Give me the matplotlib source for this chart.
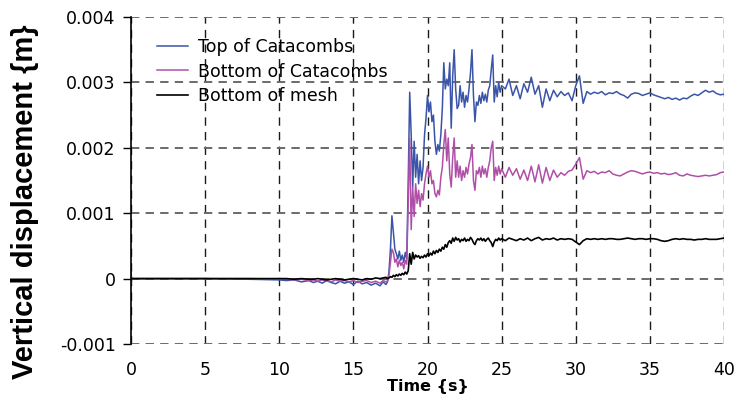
import matplotlib
matplotlib.use("Agg")
import matplotlib.pyplot as plt
import numpy as np

# ---------------- data (values in units of 1e-3 m) ----------------
t_quiet = [0, 0.05, 5, 8, 10, 10.5, 11, 11.5, 12, 12.3, 12.6, 12.9, 13.2, 13.5, 13.8,
           14.1, 14.4, 14.7, 15.0, 15.3, 15.6, 15.9, 16.2, 16.5, 16.8, 17.0, 17.2]
t_active = [17.3, 17.4, 17.5, 17.6, 17.7, 17.8, 17.9, 18.0, 18.1, 18.2, 18.3, 18.4, 18.5,
            18.6, 18.7, 18.8, 18.9, 19.0, 19.1, 19.2, 19.3, 19.4, 19.5, 19.6, 19.7, 19.8,
            19.9, 20.0, 20.1, 20.2, 20.3, 20.4, 20.5, 20.6, 20.7, 20.8, 20.9, 21.0, 21.1,
            21.2, 21.3, 21.4, 21.5, 21.6, 21.7, 21.8, 21.9, 22.0, 22.1, 22.2, 22.3, 22.4,
            22.5, 22.6, 22.7, 22.8, 22.9, 23.0, 23.1, 23.2, 23.3, 23.4, 23.5, 23.6, 23.7,
            23.8, 23.9, 24.0, 24.1, 24.2, 24.3, 24.4, 24.5, 24.6, 24.7, 24.8, 24.9, 25.0]
t_late = [25.25, 25.5, 25.75, 26.0, 26.25, 26.5, 26.75, 27.0, 27.25, 27.5, 27.75, 28.0,
          28.25, 28.5, 28.75, 29.0, 29.25, 29.5, 29.75, 30.0, 30.25, 30.5, 30.75, 31.0,
          31.25, 31.5, 31.75, 32.0, 32.25, 32.5, 32.75, 33.0, 33.25, 33.5, 33.75, 34.0,
          34.25, 34.5, 34.75, 35.0, 35.25, 35.5, 35.75, 36.0, 36.25, 36.5, 36.75, 37.0,
          37.25, 37.5, 37.75, 38.0, 38.25, 38.5, 38.75, 39.0, 39.25, 39.5, 39.75, 40.0]

top_quiet = [-0.08, 0, 0, -0.01, -0.02, -0.03, -0.02, -0.05, -0.03, -0.06, -0.04, -0.07, -0.03,
             -0.06, -0.08, -0.04, -0.07, -0.05, -0.09, -0.04, -0.08, -0.06, -0.10, -0.07,
             -0.11, -0.05, -0.09]
top_active = [-0.05, 0.10, 0.45, 0.96, 0.70, 0.45, 0.38, 0.30, 0.42, 0.28, 0.36, 0.25, 0.40,
              0.30, 1.50, 2.85, 2.20, 1.40, 2.10, 1.55, 1.90, 1.45, 1.80, 1.50, 1.70, 2.20,
              2.45, 2.80, 2.55, 2.70, 2.40, 2.50, 2.10, 1.90, 2.05, 1.95, 2.20, 2.60, 3.30,
              2.90, 3.05, 2.95, 3.30, 2.30, 3.10, 3.50, 2.90, 2.60, 2.65, 2.95, 2.70, 2.85,
              2.62, 2.80, 2.70, 2.90, 3.15, 3.50, 2.80, 2.40, 2.70, 2.65, 2.80, 2.68, 2.85,
              2.72, 2.82, 2.70, 2.88, 2.95, 3.20, 3.42, 2.70, 2.95, 2.78, 3.00, 2.85, 2.95]
top_late = [2.90, 3.05, 2.80, 2.95, 2.75, 2.98, 2.85, 3.08, 2.82, 2.95, 2.62, 2.90,
            2.72, 2.88, 2.78, 2.86, 2.80, 2.84, 2.72, 2.95, 3.10, 2.68, 2.86, 2.82,
            2.85, 2.83, 2.86, 2.81, 2.84, 2.83, 2.86, 2.82, 2.80, 2.76, 2.82, 2.84,
            2.83, 2.80, 2.82, 2.84, 2.81, 2.79, 2.77, 2.75, 2.77, 2.74, 2.76, 2.73,
            2.76, 2.75, 2.79, 2.82, 2.80, 2.84, 2.88, 2.85, 2.87, 2.83, 2.81, 2.82]

bot_quiet = [0.10, 0, 0, 0, -0.01, -0.01, -0.02, -0.01, -0.03, -0.02, -0.04, -0.02, -0.03,
             -0.05, -0.02, -0.04, -0.03, -0.05, -0.03, -0.06, -0.04, -0.03, -0.06, -0.04,
             -0.07, -0.03, -0.05]
bot_active = [-0.04, 0.05, 0.25, 0.45, 0.40, 0.25, 0.30, 0.18, 0.28, 0.20, 0.25, 0.15, 0.28,
              0.22, 1.20, 2.14, 0.75, 1.40, 0.95, 1.45, 1.15, 1.35, 1.10, 1.30, 1.20, 1.45,
              1.60, 1.72, 1.55, 1.65, 1.45, 1.50, 1.30, 1.25, 1.35, 1.28, 1.55, 1.70, 2.05,
              2.28, 1.80, 2.15, 1.60, 1.40, 1.85, 2.15, 1.55, 1.80, 1.55, 1.72, 1.50, 1.65,
              1.55, 1.70, 1.60, 1.75, 1.85, 2.05, 1.50, 1.35, 1.65, 1.60, 1.70, 1.55, 1.72,
              1.60, 1.68, 1.55, 1.70, 1.80, 2.00, 2.10, 1.50, 1.70, 1.58, 1.72, 1.60, 1.68]
bot_late = [1.55, 1.70, 1.58, 1.68, 1.52, 1.66, 1.50, 1.72, 1.48, 1.74, 1.46, 1.70,
            1.50, 1.66, 1.55, 1.62, 1.58, 1.64, 1.66, 1.75, 1.85, 1.52, 1.65, 1.62,
            1.64, 1.60, 1.63, 1.62, 1.65, 1.60, 1.58, 1.57, 1.60, 1.63, 1.65, 1.64,
            1.62, 1.60, 1.62, 1.63, 1.61, 1.62, 1.60, 1.61, 1.59, 1.60, 1.62, 1.58,
            1.57, 1.60, 1.58, 1.57, 1.56, 1.57, 1.58, 1.57, 1.58, 1.59, 1.62, 1.63]

mesh_quiet = [0, 0, 0, 0, 0, 0, -0.01, 0, -0.01, -0.01, 0, -0.01, -0.02, -0.01, 0, -0.01,
              -0.02, -0.01, 0, -0.01, -0.02, 0, -0.01, 0.01, 0, 0.01, 0.02]
mesh_active = [0.00, 0.01, 0.03, 0.02, 0.05, 0.03, 0.06, 0.04, 0.07, 0.05, 0.08, 0.06, 0.10,
               0.07, 0.12, 0.38, 0.22, 0.40, 0.30, 0.36, 0.33, 0.35, 0.31, 0.34, 0.32, 0.36,
               0.33, 0.38, 0.35, 0.39, 0.36, 0.42, 0.38, 0.43, 0.40, 0.45, 0.42, 0.48, 0.45,
               0.52, 0.48, 0.55, 0.58, 0.54, 0.62, 0.57, 0.63, 0.59, 0.61, 0.56, 0.60, 0.58,
               0.62, 0.57, 0.60, 0.58, 0.63, 0.60, 0.55, 0.52, 0.58, 0.61, 0.59, 0.62, 0.58,
               0.61, 0.57, 0.60, 0.62, 0.58, 0.55, 0.49, 0.56, 0.60, 0.58, 0.62, 0.59, 0.61]
mesh_late = [0.58, 0.62, 0.60, 0.58, 0.61, 0.59, 0.62, 0.58, 0.61, 0.63, 0.59, 0.61,
             0.60, 0.62, 0.59, 0.61, 0.60, 0.61, 0.60, 0.56, 0.52, 0.58, 0.61, 0.60,
             0.61, 0.60, 0.61, 0.60, 0.61, 0.61, 0.60, 0.60, 0.61, 0.62, 0.61, 0.60,
             0.61, 0.61, 0.60, 0.61, 0.61, 0.60, 0.58, 0.57, 0.58, 0.60, 0.61, 0.60,
             0.61, 0.60, 0.60, 0.59, 0.60, 0.60, 0.61, 0.60, 0.60, 0.60, 0.61, 0.62]

series_names = ["Top of Catacombs", "Bottom of Catacombs", "Bottom of mesh"]
series_colors = ["#3A55A8", "#B04FA8", "#000000"]

x_ticks = [0, 5, 10, 15, 20, 25, 30, 35, 40]
y_ticks = [-0.001, 0, 0.001, 0.002, 0.003, 0.004]
y_tick_labels = ["-0.001", "0", "0.001", "0.002", "0.003", "0.004"]

# ---------------- figure ----------------
t_all = np.array(t_quiet + t_active + t_late)
series_vals = [
    np.array(top_quiet + top_active + top_late) * 1e-3,
    np.array(bot_quiet + bot_active + bot_late) * 1e-3,
    np.array(mesh_quiet + mesh_active + mesh_late) * 1e-3,
]

fig = plt.figure(figsize=(7.39, 3.98), dpi=100)
ax = fig.add_axes([131 / 739, 1 - 344 / 398, (724 - 131) / 739, (344 - 17) / 398])

lws = [1.1, 1.1, 1.2]
for name, col, vals, lw in zip(series_names, series_colors, series_vals, lws):
    ax.plot(t_all, vals, color=col, lw=lw, label=name)

ax.set_xlim(0, 40)
ax.set_ylim(-0.001, 0.004)
ax.set_xticks(x_ticks)
ax.set_xticklabels([str(v) for v in x_ticks], family="DejaVu Sans", fontsize=12.5)
ax.set_yticks(y_ticks)
ax.set_yticklabels(y_tick_labels, family="DejaVu Sans", fontsize=12.5)

ax.set_axisbelow(True)
ax.xaxis.grid(True, color="#1a1a1a", lw=1.0, linestyle=(0, (6, 4.5)))
ax.yaxis.grid(True, color="#6a6a6a", lw=1.4, linestyle=(0, (4.3, 3.2)))

for s in ["top", "right", "bottom"]:
    ax.spines[s].set_visible(False)
ax.spines["left"].set_color("black")
ax.spines["left"].set_linewidth(1.2)

ax.tick_params(axis="x", length=0, pad=12)
ax.tick_params(axis="y", direction="out", length=6, width=1, pad=5)

ax.set_xlabel("Time {s}", family="DejaVu Sans", fontweight="bold", fontsize=11.5, labelpad=0)
ax.set_ylabel("Vertical displacement {m}", family="Liberation Sans", fontweight="bold",
              fontsize=21)
ax.yaxis.label.set_va("center")
ax.yaxis.set_label_coords(-0.179, 0.434)

leg = ax.legend(loc="upper left", bbox_to_anchor=(0.044, 0.935), frameon=False,
                borderaxespad=0, borderpad=0, handlelength=1.8, handletextpad=0.55,
                labelspacing=0.36, prop={"family": "DejaVu Sans", "size": 12.5})

fig.savefig("out.png", dpi=100)
